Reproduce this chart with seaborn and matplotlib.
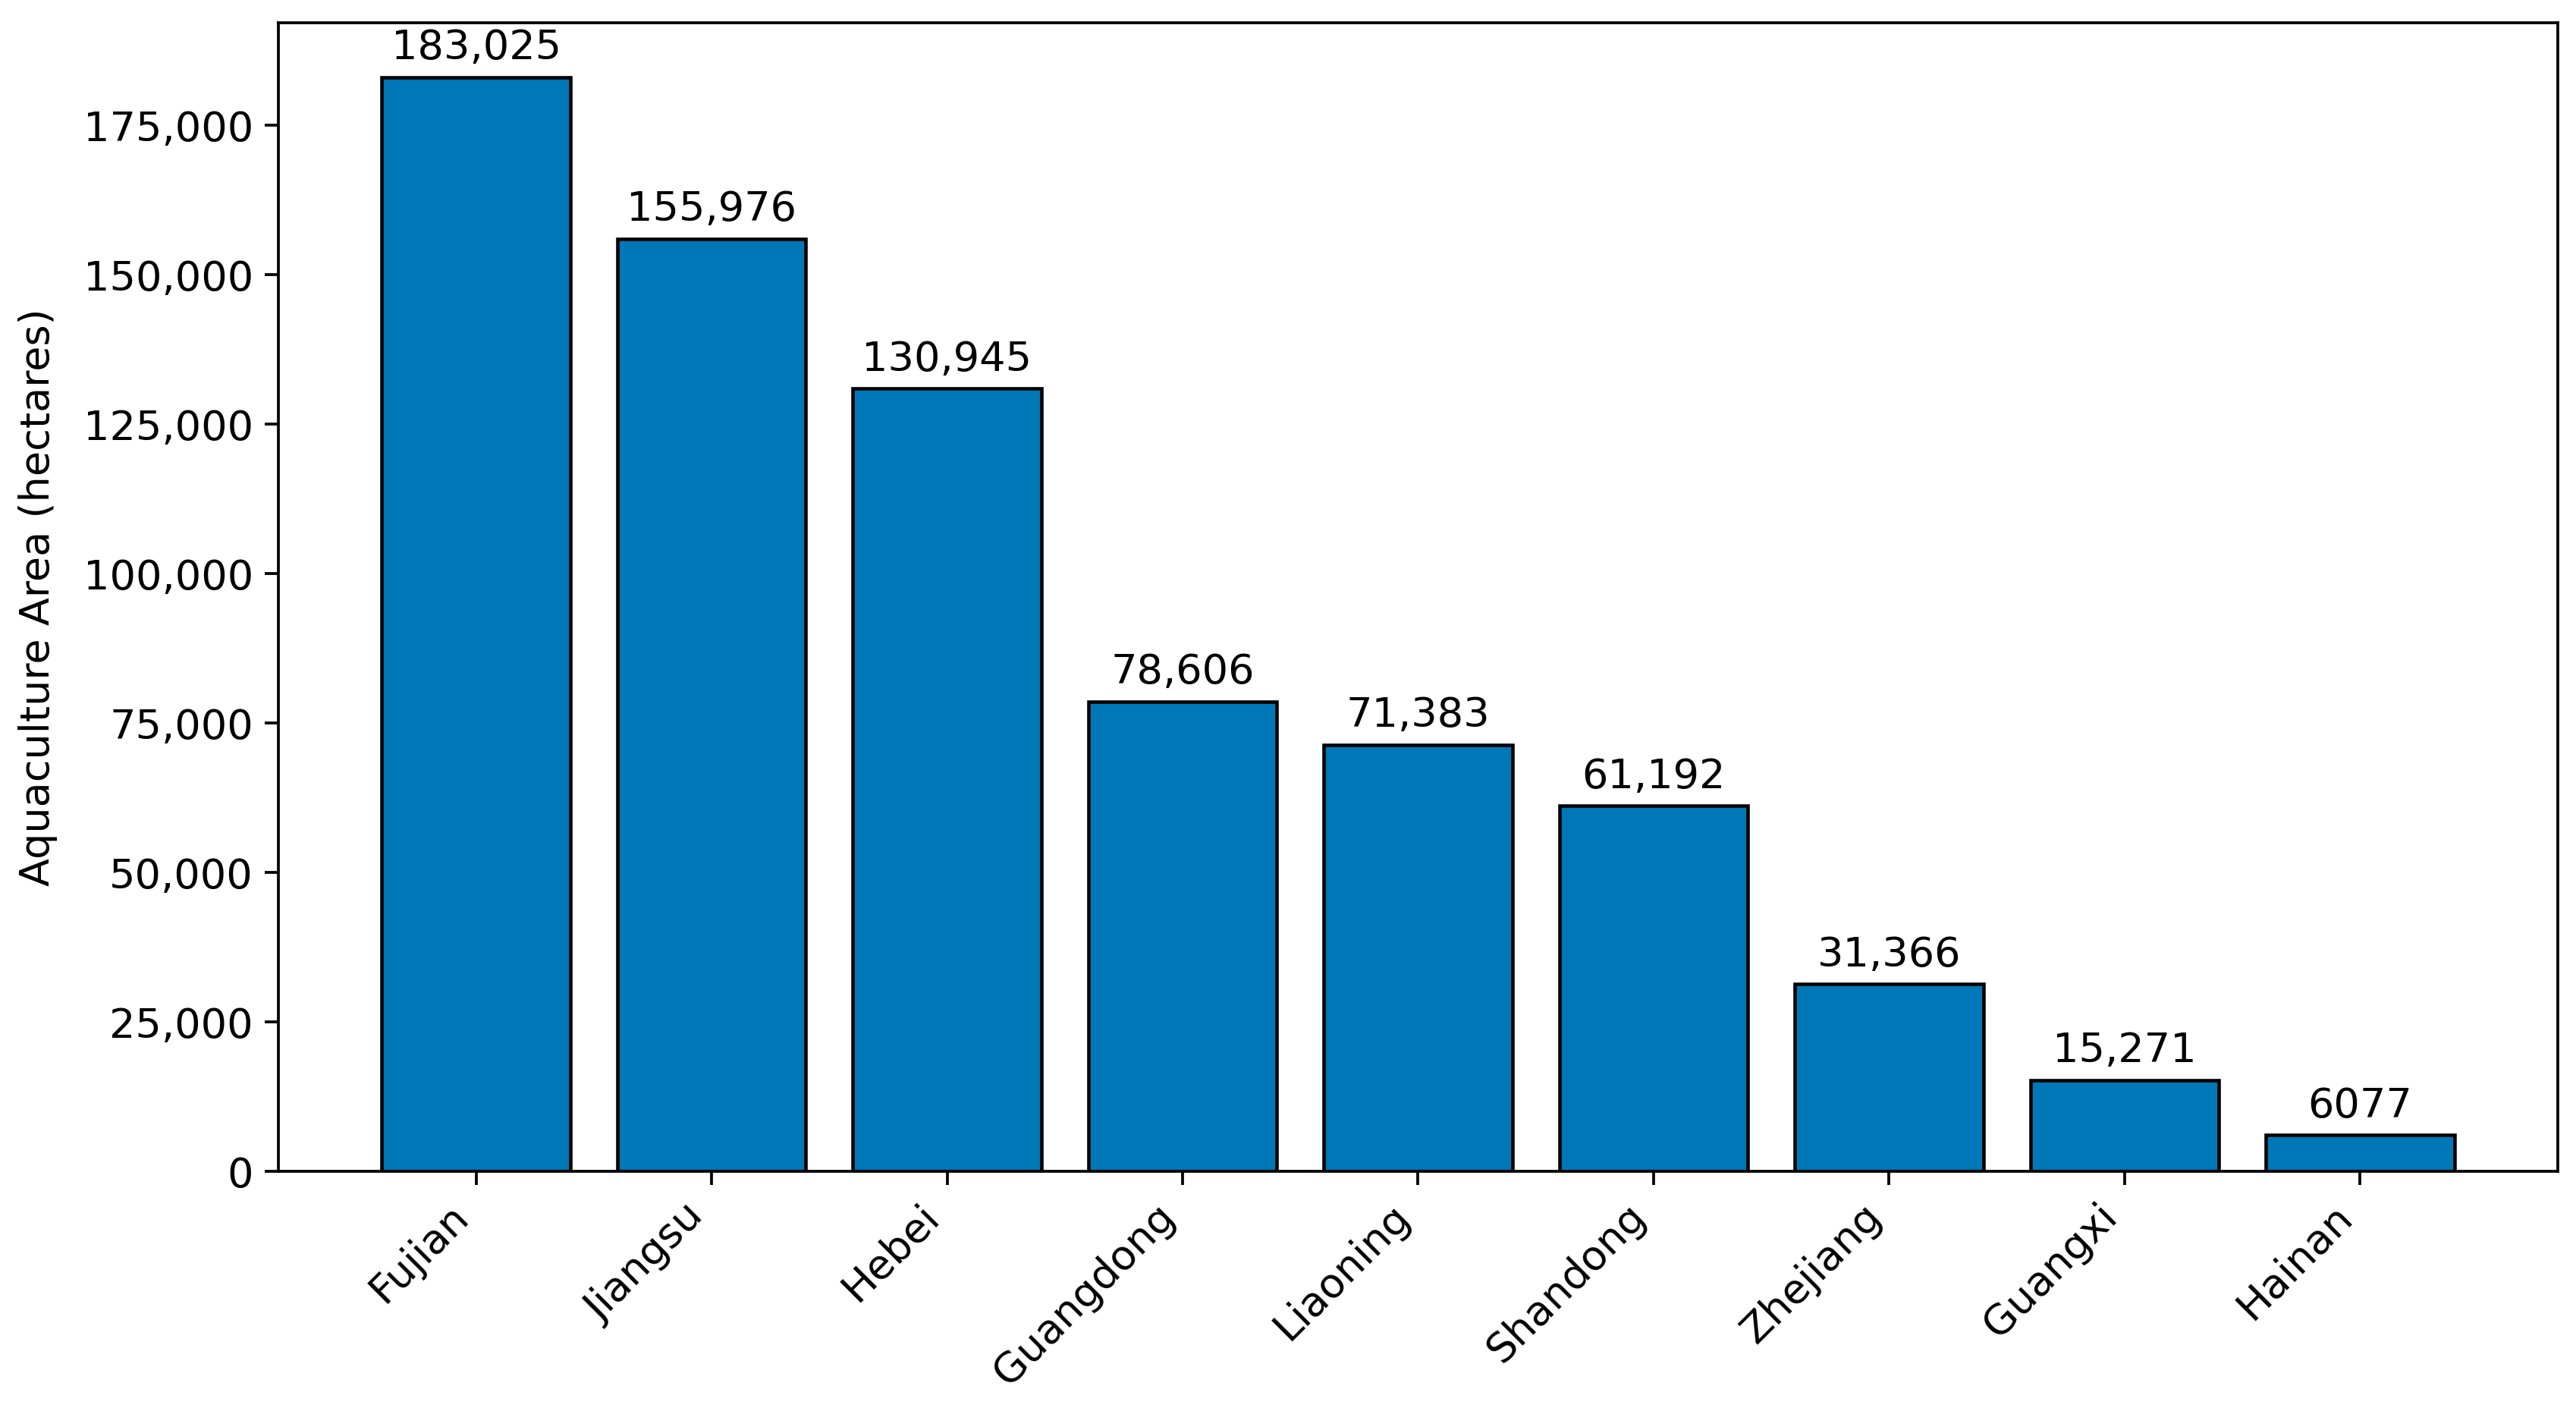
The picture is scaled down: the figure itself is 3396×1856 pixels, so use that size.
import matplotlib
matplotlib.use("Agg")
import matplotlib.pyplot as plt
from matplotlib.ticker import FuncFormatter
import seaborn as sns
import pandas as pd

provinces = ["Fujian", "Jiangsu", "Hebei", "Guangdong", "Liaoning",
             "Shandong", "Zhejiang", "Guangxi", "Hainan"]
area_ha = [183025, 155976, 130945, 78606, 71383, 61192, 31366, 15271, 6077]
bar_labels = ["183,025", "155,976", "130,945", "78,606", "71,383",
              "61,192", "31,366", "15,271", "6077"]
y_label = "Aquaculture Area (hectares)"

df = pd.DataFrame({"province": provinces, "area": area_ha})

FS = 13
plt.rcParams["font.family"] = ["DejaVu Sans"]
plt.rcParams["font.size"] = FS

fig, ax = plt.subplots(figsize=(11.32, 6.187), dpi=300)
fig.subplots_adjust(left=0.108, right=0.993, top=0.984, bottom=0.168)

sns.barplot(data=df, x="province", y="area", color="#0077b6",
            saturation=1, edgecolor="black", linewidth=1.1, width=0.8, ax=ax)

n = len(provinces)
ax.set_xlim(-0.84, n - 1 + 0.84)
ax.set_ylim(0, max(area_ha) * 1.05)

ax.bar_label(ax.containers[0], labels=bar_labels, padding=3, fontsize=FS)

ax.yaxis.set_major_formatter(FuncFormatter(lambda v, p: f"{v:,.0f}"))
ax.set_xlabel("")
ax.set_ylabel(y_label, fontsize=FS, labelpad=8)
plt.setp(ax.get_xticklabels(), rotation=45, ha="right")
for s in ax.spines.values():
    s.set_visible(True)
    s.set_linewidth(0.9)
ax.tick_params(direction="out", length=4.4, width=0.9, labelsize=FS)
ax.grid(False)

fig.savefig("out.png", dpi=300)
